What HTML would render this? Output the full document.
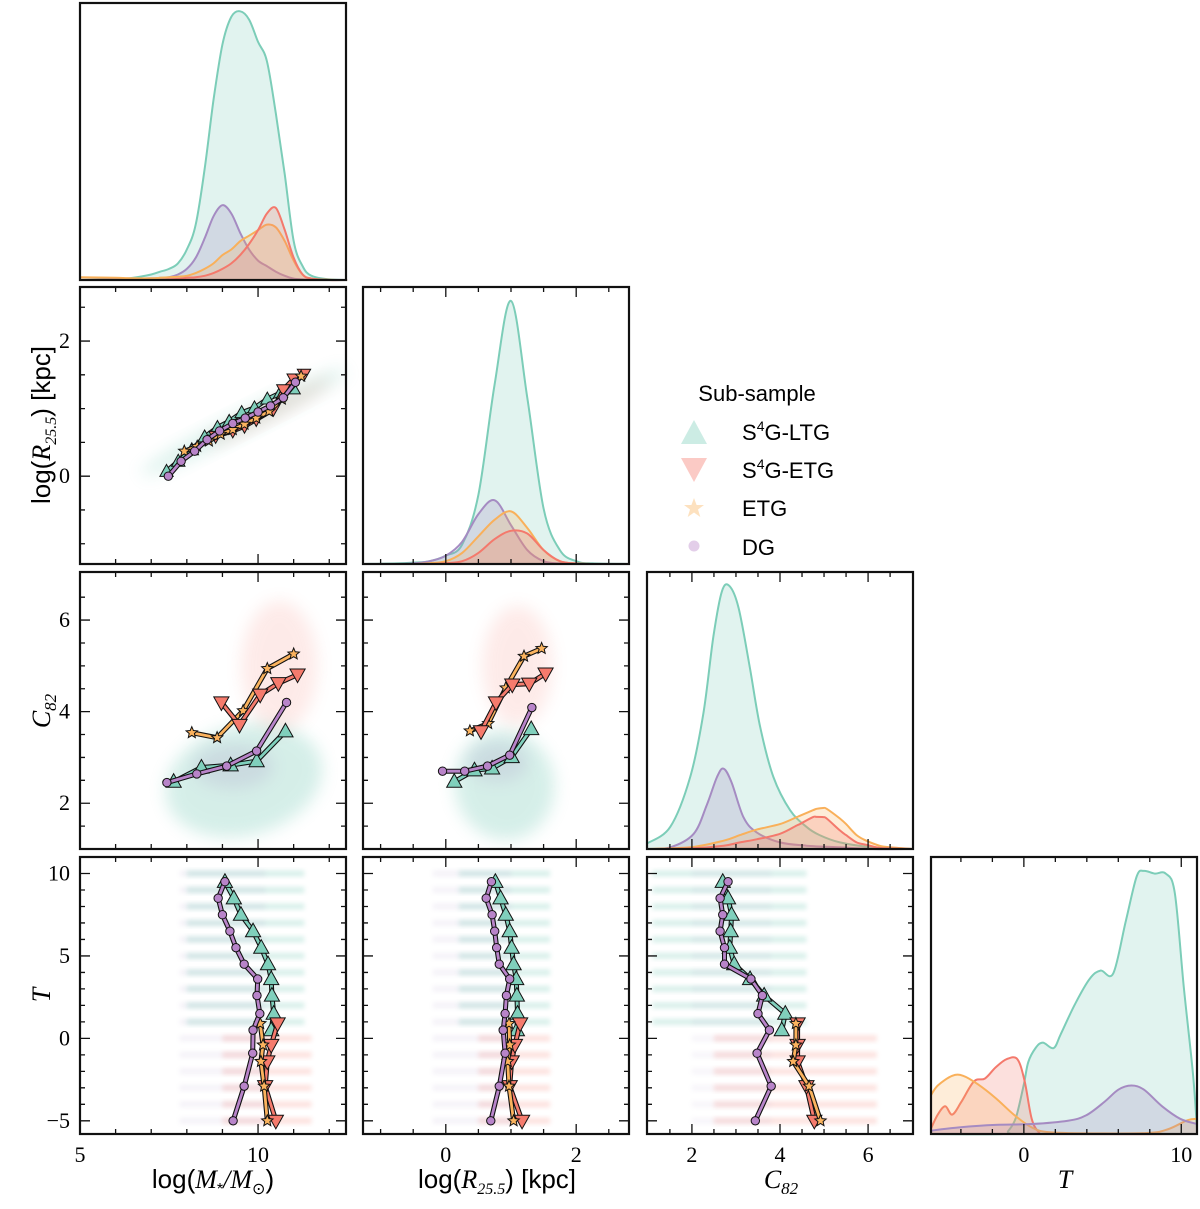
<!DOCTYPE html>
<html><head><meta charset="utf-8"><style>
html,body{margin:0;padding:0;background:#fff;}
svg{display:block;}
text{font-family:"Liberation Sans",sans-serif;}
.tk{font-family:"Liberation Serif",serif;font-size:22px;}
.lbl{font-size:26px;}
.mi{font-family:"Liberation Serif",serif;font-style:italic;}
</style></head><body>
<svg id="fig" width="1200" height="1209" viewBox="0 0 1200 1209" xmlns="http://www.w3.org/2000/svg">
<defs>
<filter id="blur" x="-50%" y="-50%" width="200%" height="200%"><feGaussianBlur stdDeviation="8"/></filter>
<filter id="blur2" x="-50%" y="-50%" width="200%" height="200%"><feGaussianBlur stdDeviation="2.5"/></filter>
</defs>
<g id="layer"></g>
<g>
<text x="757" y="401" font-size="22" text-anchor="middle">Sub-sample</text>
<polygon points="694,420 707,444 681,444" fill="#80d0bc" opacity="0.4"/>
<text x="742" y="440" font-size="22">S<tspan font-size="14" dy="-9">4</tspan><tspan dy="9">G-LTG</tspan></text>
<polygon points="681,458 707,458 694,482" fill="#f57b6d" opacity="0.4"/>
<text x="742" y="478" font-size="22">S<tspan font-size="14" dy="-9">4</tspan><tspan dy="9">G-ETG</tspan></text>
<polygon points="694,498 696.6,505 704,505 698,509.5 700.3,517 694,512.5 687.7,517 690,509.5 684,505 691.4,505" fill="#fbb35e" opacity="0.4"/>
<text x="742" y="516" font-size="22">ETG</text>
<circle cx="694" cy="546" r="5.5" fill="#b884c9" opacity="0.4"/>
<text x="742" y="555" font-size="22">DG</text>
</g>
<g>
<text x="213" y="1188" text-anchor="middle" class="lbl">log(<tspan class="mi">M</tspan><tspan font-size="16" dy="6">*</tspan><tspan dy="-6" class="mi">/M</tspan><tspan font-size="16" dy="6">⊙</tspan><tspan dy="-6">)</tspan></text>
<text x="497" y="1188" text-anchor="middle" class="lbl">log(<tspan class="mi">R</tspan><tspan font-size="16" dy="6" class="mi">25.5</tspan><tspan dy="-6">) [kpc]</tspan></text>
<text x="781" y="1188" text-anchor="middle" class="lbl"><tspan class="mi">C</tspan><tspan font-size="17" dy="6" class="mi">82</tspan></text>
<text x="1065" y="1188" text-anchor="middle" class="lbl mi">T</text>
<text transform="translate(50,425) rotate(-90)" text-anchor="middle" class="lbl">log(<tspan class="mi">R</tspan><tspan font-size="16" dy="6" class="mi">25.5</tspan><tspan dy="-6">) [kpc]</tspan></text>
<text transform="translate(50,711) rotate(-90)" text-anchor="middle" class="lbl"><tspan class="mi">C</tspan><tspan font-size="17" dy="6" class="mi">82</tspan></text>
<text transform="translate(50,995) rotate(-90)" text-anchor="middle" class="lbl mi">T</text>
</g>
</svg>
<script>
// ---------- KDE data ----------
const massGrid=[5,6,6.5,7,7.25,7.5,7.75,8,8.25,8.5,8.75,9,9.25,9.5,9.75,10,10.25,10.5,10.75,11,11.25,11.5,12,12.5];
const massKdeLTG=[0,0.003,0.008,0.02,0.03,0.04,0.06,0.11,0.2,0.4,0.65,0.85,0.95,0.97,0.94,0.86,0.79,0.6,0.38,0.14,0.05,0.015,0.002,0];
const massKdeDG=[0,0.002,0.004,0.006,0.008,0.01,0.02,0.04,0.08,0.15,0.23,0.27,0.24,0.17,0.11,0.07,0.05,0.03,0.015,0.005,0.002,0,0,0];
const massKdeS4ETG=[0,0,0,0,0,0.002,0.004,0.008,0.01,0.015,0.025,0.04,0.06,0.09,0.13,0.18,0.24,0.26,0.18,0.08,0.02,0.005,0,0];
const massKdeETG=[0.01,0.008,0.006,0.006,0.008,0.01,0.012,0.015,0.025,0.04,0.06,0.09,0.11,0.14,0.16,0.18,0.2,0.19,0.14,0.07,0.02,0.005,0.001,0];

const radGrid=[-1.27,-0.75,-0.5,-0.25,0,0.25,0.5,0.75,1.0,1.25,1.5,1.75,2.0,2.25,2.81];
const radKdeLTG=[0,0.002,0.005,0.01,0.03,0.07,0.25,0.65,0.95,0.6,0.2,0.05,0.01,0.002,0];
const radKdeDG=[0,0,0.002,0.01,0.03,0.08,0.18,0.23,0.14,0.05,0.01,0.002,0,0,0];
const radKdeETG=[0,0,0,0.003,0.01,0.04,0.1,0.16,0.19,0.13,0.05,0.01,0.002,0,0];
const radKdeS4ETG=[0,0,0,0,0.003,0.01,0.04,0.09,0.12,0.11,0.05,0.01,0.002,0,0];

const cGrid=[0.98,1.51,1.96,2.26,2.49,2.68,2.85,3.06,3.32,3.55,3.85,4.23,4.6,4.9,5.36,6.1,7.02];
const cKdeLTG=[0.02,0.08,0.26,0.49,0.77,0.93,0.95,0.87,0.65,0.44,0.26,0.14,0.08,0.05,0.024,0.006,0];
const cGrid2=[0.98,1.51,2.04,2.34,2.57,2.72,2.9,3.17,3.47,4.0,4.6,5.36,6.1,7.02];
const cKdeDG=[0,0.006,0.055,0.16,0.26,0.29,0.24,0.115,0.06,0.024,0.012,0.006,0,0];
const cGrid3=[0.98,1.96,2.72,3.09,3.47,4.0,4.38,4.45,4.75,4.83,4.98,5.06,5.36,5.5,5.74,5.96,6.26,6.5,7.02];
const cKdeETG=[0,0.006,0.03,0.05,0.07,0.09,0.115,0.12,0.14,0.145,0.148,0.145,0.11,0.09,0.05,0.03,0.012,0.006,0];
const cKdeS4ETG=[0,0.002,0.012,0.024,0.035,0.055,0.085,0.09,0.115,0.116,0.115,0.11,0.067,0.05,0.024,0.015,0.004,0.002,0];

const tGrid=[-5.9,-5.47,-5.0,-4.55,-3.98,-3.17,-2.48,-1.8,-1.1,-0.41,0.05,0.5,0.97,1.5,11];
const tKdeS4ETG=[0.02,0.07,0.1,0.07,0.115,0.19,0.2,0.24,0.27,0.27,0.19,0.055,0.006,0,0];
const tGridL=[-5.9,-1.3,-1.0,-0.5,0,0.28,0.74,1.2,1.89,2.34,3.26,4.18,4.87,5.68,6.48,7.17,7.63,8.32,9.01,9.59,10.16,10.74,11];
const tKdeLTG=[0,0,0.01,0.06,0.18,0.26,0.31,0.33,0.31,0.36,0.47,0.56,0.59,0.58,0.77,0.93,0.95,0.94,0.94,0.87,0.53,0.22,0.02];
const tGridE=[-5.9,-5.47,-4.55,-3.86,-2.94,-1.8,-0.64,0.5,1.66,5,8,9.2,10.4,11];
const tKdeETG=[0.14,0.175,0.21,0.21,0.18,0.13,0.07,0.024,0.006,0.002,0.004,0.018,0.05,0.055];
const tGridD=[-5.9,-4.1,-1.8,0.5,2.8,3.95,5.1,6.0,6.83,7.63,8.78,9.93,11];
const tKdeDG=[0.012,0.024,0.033,0.036,0.048,0.067,0.115,0.16,0.175,0.16,0.1,0.055,0.036];

// ---------- median-trend data ----------
const r1MassDG=[7.48,7.84,8.22,8.57,8.92,9.29,9.64,10.0,10.35,10.71,11.05];
const r1RadDG=[0,0.22,0.37,0.54,0.67,0.78,0.86,0.95,1.04,1.16,1.39];
const r1MassLTG=[7.43,7.76,8.14,8.5,8.86,9.19,9.54,9.9,10.26,10.62,11.0];
const r1RadLTG=[0.07,0.22,0.39,0.58,0.72,0.81,0.94,1.01,1.14,1.23,1.29];
const r1MassETG=[7.93,8.29,8.62,8.95,9.29,9.62,9.95,10.31,10.67,11.21];
const r1RadETG=[0.37,0.44,0.52,0.62,0.69,0.77,0.86,0.96,1.14,1.48];
const r1MassS4ETG=[8.81,9.29,9.62,9.95,10.43,10.71,11.0,11.29];
const r1RadS4ETG=[0.59,0.67,0.74,0.84,0.99,1.28,1.44,1.51];

const r2MassETG=[8.14,8.85,9.58,10.26,11.0], r2CETG=[3.54,3.43,4.02,4.94,5.26];
const r2MassS4ETG=[8.97,9.48,10.06,10.57,11.11], r2CS4ETG=[4.2,3.71,4.37,4.62,4.81];
const r2MassDG=[7.44,8.28,9.12,9.96,10.8], r2CDG=[2.45,2.64,2.81,3.14,4.2];
const r2MassLTG=[7.63,8.41,9.23,9.96,10.77], r2CLTG=[2.47,2.78,2.83,2.92,3.57];
const r2RadETG=[0.37,0.65,0.92,1.2,1.47], r2CRETG=[3.58,3.74,4.52,5.21,5.38];
const r2RadS4ETG=[0.54,0.77,1.02,1.28,1.53], r2CRS4ETG=[3.57,4.2,4.59,4.61,4.83];
const r2RadDG=[-0.05,0.29,0.64,0.98,1.32], r2CRDG=[2.7,2.7,2.81,3.05,4.09];
const r2RadLTG=[0.13,0.44,0.71,1.01,1.31], r2CRLTG=[2.47,2.72,2.76,3.01,3.62];

const tBinsDG=[9.5,8.5,7.5,6.5,5.5,4.5,3.6,2.6,1.5,0.5,-0.9,-2.9,-5];
const tBinsLTG=[9.5,8.5,7.5,6.5,5.5,4.5,3.6,2.6,1.5,0.5];
const tBinsETG=[0.9,-0.4,-1.4,-2.9,-5];
const r3MassDG=[9.07,8.88,9.0,9.21,9.38,9.61,9.99,9.97,10.05,9.86,9.85,9.61,9.3];
const r3MassLTG=[9.07,9.32,9.52,9.86,10.09,10.28,10.37,10.39,10.44,10.37];
const r3MassETG=[10.06,10.14,10.08,10.17,10.26];
const r3MassS4ETG=[10.55,10.37,10.26,10.2,10.5];
const r3RadDG=[0.7,0.62,0.71,0.75,0.78,0.82,0.98,0.93,0.91,0.88,0.91,0.82,0.69];
const r3RadLTG=[0.76,0.84,0.92,0.98,1.01,1.04,1.08,1.09,1.1,1.09];
const r3RadETG=[0.97,0.98,0.95,0.97,1.04];
const r3RadS4ETG=[1.14,1.06,1.01,0.98,1.17];
const r3CDG=[2.82,2.64,2.7,2.64,2.74,2.74,3.34,3.6,3.5,3.76,3.48,3.8,3.44];
const r3CLTG=[2.7,2.82,2.9,2.88,2.86,2.96,3.32,3.64,4.12,4.04];
const r3CETG=[4.36,4.36,4.3,4.66,4.92];
const r3CS4ETG=[4.4,4.4,4.4,4.6,4.78];

// ---------- rendering ----------
const NS='http://www.w3.org/2000/svg';
const layer=document.getElementById('layer');
const COL={ltg:{line:'#7ccdb8',fill:'#7fcdbb',mk:'#80d0bc'},s4etg:{line:'#f4796c',fill:'#f4796c',mk:'#f57b6d'},etg:{line:'#f9b05a',fill:'#f9b05a',mk:'#fbb35e'},dg:{line:'#a58bc2',fill:'#9d86bd',mk:'#b884c9'}};
const colX=[80,363,647,931], rowY=[3,287,572,857], PW=266, PH=277;
const xr=[[5,12.47],[-1.27,2.81],[0.98,7.02],[-5.9,11]];
const yr=[[0,1],[-1.3,2.8],[1.0,7.05],[-5.8,11.0]];
function el(tag,attrs,parent){const e=document.createElementNS(NS,tag);for(const k in attrs)e.setAttribute(k,attrs[k]);(parent||layer).appendChild(e);return e;}
function panel(r,c){
  const x0=colX[c],y0=rowY[r],xs=xr[c],ys=(r===c)?[0,1.0]:yr[r];
  return {r,c,x0,y0,sx:v=>x0+(v-xs[0])/(xs[1]-xs[0])*PW,sy:v=>y0+PH-(v-ys[0])/(ys[1]-ys[0])*PH};
}
function smoothPath(pts){
  let d='M'+pts[0][0].toFixed(1)+','+pts[0][1].toFixed(1);
  for(let i=0;i<pts.length-1;i++){
    const p0=pts[i-1]||pts[i],p1=pts[i],p2=pts[i+1],p3=pts[i+2]||p2;
    const c1=[p1[0]+(p2[0]-p0[0])/6,p1[1]+(p2[1]-p0[1])/6],c2=[p2[0]-(p3[0]-p1[0])/6,p2[1]-(p3[1]-p1[1])/6];
    d+=' C'+c1.map(v=>v.toFixed(1)).join(',')+' '+c2.map(v=>v.toFixed(1)).join(',')+' '+p2[0].toFixed(1)+','+p2[1].toFixed(1);
  }
  return d;
}
function kde(P,g,xsArr,ysArr,key,name){
  const pts=xsArr.map((v,i)=>[P.sx(v),Math.max(P.sy(ysArr[i]),P.y0)]);
  const line=smoothPath(pts);
  const base=P.sy(0);
  const area=line+' L'+pts[pts.length-1][0].toFixed(1)+','+base+' L'+pts[0][0].toFixed(1)+','+base+' Z';
  const a=el('path',{d:area,fill:COL[key].fill,'fill-opacity':0.23,stroke:'none'},g);
  
  
  const l=el('path',{d:line,fill:'none',stroke:COL[key].line,'stroke-width':2},g);
  
  
}
function marker(g,key,x,y,size){
  const c=COL[key].mk;let m;
  if(key==='ltg'){m=el('polygon',{points:`${x},${y-size} ${x+size*0.95},${y+size*0.7} ${x-size*0.95},${y+size*0.7}`},g);}
  else if(key==='s4etg'){m=el('polygon',{points:`${x},${y+size} ${x+size*0.95},${y-size*0.7} ${x-size*0.95},${y-size*0.7}`},g);}
  else if(key==='etg'){let p=[];for(let i=0;i<10;i++){const rr=i%2?size*0.45:size;const a=-Math.PI/2+i*Math.PI/5;p.push((x+rr*Math.cos(a)).toFixed(1)+','+(y+rr*Math.sin(a)).toFixed(1));}m=el('polygon',{points:p.join(' ')},g);}
  else {m=el('circle',{cx:x,cy:y,r:size*0.6},g);}
  m.setAttribute('fill',c);m.setAttribute('stroke','#111');m.setAttribute('stroke-width','1');
  return m;
}
function trend(P,g,xsArr,ysArr,key,name,size){
  const pts=xsArr.map((v,i)=>[P.sx(v),P.sy(ysArr[i])]);
  const d='M'+pts.map(p=>p[0].toFixed(1)+','+p[1].toFixed(1)).join(' L');
  el('path',{d,fill:'none',stroke:'#111','stroke-width':5,'stroke-linejoin':'round'},g);
  const l=el('path',{d,fill:'none',stroke:COL[key].mk,'stroke-width':2.8,'stroke-linejoin':'round'},g);
  
  
  pts.forEach((p,i)=>{const m=marker(g,key,p[0],p[1],size);
    
    });
}
function cloud(P,g,cx,cy,rx,ry,rot,key,op){
  const e=el('ellipse',{cx:P.sx(cx),cy:P.sy(cy),rx,ry,fill:COL[key].fill,opacity:op,filter:'url(#blur)',transform:`rotate(${rot} ${P.sx(cx)} ${P.sy(cy)})`},g);
  
  
}
function bands(P,g,t0,t1,xa,xb,key,op){
  for(let t=t0;t<=t1;t++){
    const r=el('rect',{x:P.sx(xa),y:P.sy(t)-3,width:P.sx(xb)-P.sx(xa),height:6,fill:COL[key].fill,opacity:op,filter:'url(#blur2)'},g);
    
    
  }
}
function ticks(P,g,xMaj,xMin,yMaj,yMin,xLab,yLab){
  const clipX=v=>v>=P.x0-0.5&&v<=P.x0+PW+0.5, clipY=v=>v>=P.y0-0.5&&v<=P.y0+PH+0.5;
  const tk=[];
  xMaj.forEach(v=>tk.push(['x',P.sx(v),10]));xMin.forEach(v=>tk.push(['x',P.sx(v),5]));
  yMaj.forEach(v=>tk.push(['y',P.sy(v),10]));yMin.forEach(v=>tk.push(['y',P.sy(v),5]));
  let d='';
  tk.forEach(([a,p,L])=>{
    if(a==='x'&&clipX(p)){d+=`M${p},${P.y0}v${L}M${p},${P.y0+PH}v${-L}`;}
    if(a==='y'&&clipY(p)){d+=`M${P.x0},${p}h${L}M${P.x0+PW},${p}h${-L}`;}
  });
  el('path',{d,stroke:'#111','stroke-width':1.3,fill:'none'},g);
  if(xLab)xMaj.forEach(v=>{const t=el('text',{x:P.sx(v),y:P.y0+PH+28,'text-anchor':'middle',class:'tk'},g);t.textContent=(v<0?'−':'')+Math.abs(v);
    
    });
  if(yLab)yMaj.forEach(v=>{const t=el('text',{x:P.x0-10,y:P.sy(v)+7,'text-anchor':'end',class:'tk'},g);t.textContent=(v<0?'−':'')+Math.abs(v);
    
    });
}
function range(a,b,s){const o=[];for(let v=a;v<=b+1e-9;v+=s)o.push(+v.toFixed(3));return o;}
const XT=[[[5,10],range(6,12,1)],[[0,2],[-1,-0.5,0.5,1,1.5,2.5]],[[2,4,6],[1.5,2.5,3,3.5,4.5,5,5.5,6.5]],[[0,10],[-4,-2,2,4,6,8]]];
const YT=[null,[[0,2],[-1,-0.5,0.5,1,1.5,2.5]],[[2,4,6],[1.5,2.5,3,3.5,4.5,5,5.5,6.5]],[[-5,0,5,10],[-4,-3,-2,-1,1,2,3,4,6,7,8,9]]];

function makeGroup(name){const g=el('g',{});return g;}
function frame(P,g){el('rect',{x:P.x0,y:P.y0,width:PW,height:PH,fill:'none',stroke:'#111','stroke-width':2.2},g);}

let P,g;
P=panel(0,0);g=makeGroup('kde-panel-mass');
kde(P,g,massGrid,massKdeLTG,'ltg','kde-mass-ltg');kde(P,g,massGrid,massKdeDG,'dg','kde-mass-dg');
kde(P,g,massGrid,massKdeETG,'etg','kde-mass-etg');kde(P,g,massGrid,massKdeS4ETG,'s4etg','kde-mass-s4etg');
frame(P,g);
P=panel(1,1);g=makeGroup('kde-panel-radius');
kde(P,g,radGrid,radKdeLTG,'ltg','kde-radius-ltg');kde(P,g,radGrid,radKdeDG,'dg','kde-radius-dg');
kde(P,g,radGrid,radKdeETG,'etg','kde-radius-etg');kde(P,g,radGrid,radKdeS4ETG,'s4etg','kde-radius-s4etg');
ticks(P,g,XT[1][0],XT[1][1],[],[],false,false);frame(P,g);
P=panel(2,2);g=makeGroup('kde-panel-c82');
kde(P,g,cGrid,cKdeLTG,'ltg','kde-c82-ltg');kde(P,g,cGrid2,cKdeDG,'dg','kde-c82-dg');
kde(P,g,cGrid3,cKdeETG,'etg','kde-c82-etg');kde(P,g,cGrid3,cKdeS4ETG,'s4etg','kde-c82-s4etg');
ticks(P,g,XT[2][0],XT[2][1],[],[],false,false);frame(P,g);
P=panel(3,3);g=makeGroup('kde-panel-t');
kde(P,g,tGridL,tKdeLTG,'ltg','kde-t-ltg');kde(P,g,tGrid,tKdeS4ETG,'s4etg','kde-t-s4etg');
kde(P,g,tGridE,tKdeETG,'etg','kde-t-etg');kde(P,g,tGridD,tKdeDG,'dg','kde-t-dg');
ticks(P,g,XT[3][0],XT[3][1],[],[],true,false);frame(P,g);

P=panel(1,0);g=makeGroup('scatter-radius-vs-mass');
cloud(P,g,9.6,0.8,115,11,-27,'ltg',0.28);cloud(P,g,10.3,0.95,70,8,-27,'s4etg',0.18);
trend(P,g,r1MassLTG,r1RadLTG,'ltg','ltg-trend',7);
trend(P,g,r1MassS4ETG,r1RadS4ETG,'s4etg','s4etg-trend',7);
trend(P,g,r1MassETG,r1RadETG,'etg','etg-trend',6);
trend(P,g,r1MassDG,r1RadDG,'dg','dg-trend',7);
ticks(P,g,XT[0][0],XT[0][1],YT[1][0],YT[1][1],false,true);frame(P,g);

P=panel(2,0);g=makeGroup('scatter-c82-vs-mass');
cloud(P,g,9.6,2.5,80,55,-15,'ltg',0.32);cloud(P,g,10.6,5.0,38,65,0,'s4etg',0.15);cloud(P,g,9.3,2.8,40,22,0,'dg',0.18);
trend(P,g,r2MassETG,r2CETG,'etg','etg-trend',6);
trend(P,g,r2MassS4ETG,r2CS4ETG,'s4etg','s4etg-trend',8);
trend(P,g,r2MassLTG,r2CLTG,'ltg','ltg-trend',8);
trend(P,g,r2MassDG,r2CDG,'dg','dg-trend',7);
ticks(P,g,XT[0][0],XT[0][1],YT[2][0],YT[2][1],false,true);frame(P,g);

P=panel(2,1);g=makeGroup('scatter-c82-vs-radius');
cloud(P,g,0.9,2.4,50,55,-10,'ltg',0.32);cloud(P,g,1.1,5.0,35,60,0,'s4etg',0.15);cloud(P,g,0.8,2.9,30,20,0,'dg',0.18);
trend(P,g,r2RadETG,r2CRETG,'etg','etg-trend',6);
trend(P,g,r2RadS4ETG,r2CRS4ETG,'s4etg','s4etg-trend',8);
trend(P,g,r2RadLTG,r2CRLTG,'ltg','ltg-trend',8);
trend(P,g,r2RadDG,r2CRDG,'dg','dg-trend',7);
ticks(P,g,XT[1][0],XT[1][1],YT[2][0],YT[2][1],false,false);frame(P,g);

P=panel(3,0);g=makeGroup('scatter-t-vs-mass');
bands(P,g,1,10,8.0,11.3,'ltg',0.3);bands(P,g,-5,0,9.0,11.5,'s4etg',0.22);bands(P,g,-5,10,7.8,10.2,'dg',0.1);
trend(P,g,r3MassLTG,tBinsLTG,'ltg','ltg-trend',8);
trend(P,g,r3MassS4ETG,tBinsETG,'s4etg','s4etg-trend',8);
trend(P,g,r3MassETG,tBinsETG,'etg','etg-trend',6);
trend(P,g,r3MassDG,tBinsDG,'dg','dg-trend',7);
ticks(P,g,XT[0][0],XT[0][1],YT[3][0],YT[3][1],true,true);frame(P,g);

P=panel(3,1);g=makeGroup('scatter-t-vs-radius');
bands(P,g,1,10,0.2,1.6,'ltg',0.3);bands(P,g,-5,0,0.5,1.6,'s4etg',0.22);bands(P,g,-5,10,-0.2,1.0,'dg',0.1);
trend(P,g,r3RadLTG,tBinsLTG,'ltg','ltg-trend',8);
trend(P,g,r3RadS4ETG,tBinsETG,'s4etg','s4etg-trend',8);
trend(P,g,r3RadETG,tBinsETG,'etg','etg-trend',6);
trend(P,g,r3RadDG,tBinsDG,'dg','dg-trend',7);
ticks(P,g,XT[1][0],XT[1][1],YT[3][0],YT[3][1],true,false);frame(P,g);

P=panel(3,2);g=makeGroup('scatter-t-vs-c82');
bands(P,g,1,10,1.1,4.6,'ltg',0.3);bands(P,g,-5,0,2.5,6.2,'s4etg',0.22);bands(P,g,-5,10,2.0,3.8,'dg',0.08);
trend(P,g,r3CLTG,tBinsLTG,'ltg','ltg-trend',8);
trend(P,g,r3CS4ETG,tBinsETG,'s4etg','s4etg-trend',8);
trend(P,g,r3CETG,tBinsETG,'etg','etg-trend',6);
trend(P,g,r3CDG,tBinsDG,'dg','dg-trend',7);
ticks(P,g,XT[2][0],XT[2][1],YT[3][0],YT[3][1],true,false);frame(P,g);
</script>
</body></html>
